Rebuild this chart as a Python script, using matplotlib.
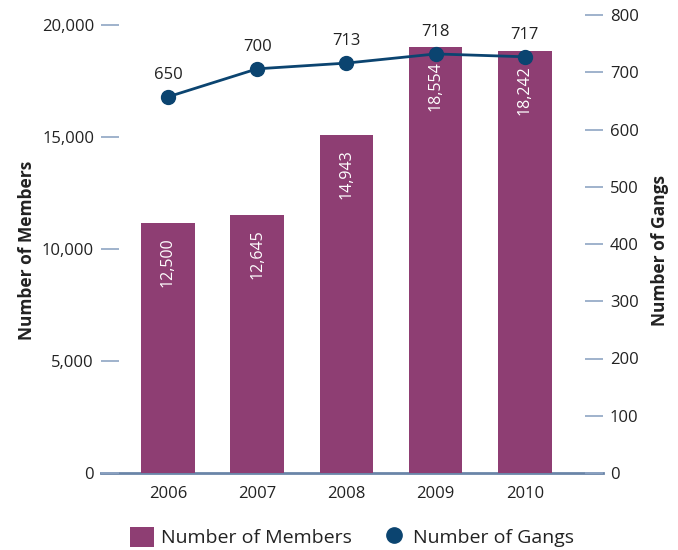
import matplotlib.pyplot as plt
from matplotlib.patches import Patch
from matplotlib.lines import Line2D

plt.rcParams['font.family'] = ['Open Sans', 'DejaVu Sans']

years = ["2006", "2007", "2008", "2009", "2010"]
# printed values
members = [12500, 12645, 14943, 18554, 18242]
gangs = [650, 700, 713, 718, 717]
# heights as drawn in the picture
member_bars = [11160, 11500, 15090, 19010, 18840]
gang_points = [657, 706, 716, 732, 727]

purple = "#8E3E73"
navy = "#0B4470"
tick_col = "#8FA5C4"
base_col = "#6A85A8"

fig = plt.figure(figsize=(6.78, 5.5), dpi=100)
ax = fig.add_axes([101 / 678, 1 - 473 / 550, 502 / 678, 458 / 550])
ax2 = ax.twinx()

x = list(range(len(years)))
ax.bar(x, member_bars, width=0.6, color=purple, zorder=3)
for xi, h, v in zip(x, member_bars, members):
    ax.annotate(f"{v:,}", (xi, h), xytext=(0, -10), textcoords="offset points",
                rotation=90, ha="center", va="top", color="white", fontsize=11.5)

ax2.plot(x, gang_points, color=navy, lw=2, marker="o", ms=10, zorder=4)
for xi, h, v in zip(x, gang_points, gangs):
    ax2.annotate(str(v), (xi, h), xytext=(0, 10), textcoords="offset points",
                 ha="center", va="bottom", color="#222222", fontsize=12)

ax.set_xlim(-0.75, 4.875)
ax.set_ylim(0, 20000 * 458 / 448)
ax2.set_ylim(0, 800)
ax.set_yticks([0, 5000, 10000, 15000, 20000])
ax.set_yticklabels(["0", "5,000", "10,000", "15,000", "20,000"])
ax2.set_yticks(range(0, 801, 100))
ax.set_xticks(x)
ax.set_xticklabels(years)

for a in (ax, ax2):
    for s in a.spines.values():
        s.set_visible(False)
ax.spines["bottom"].set_visible(True)
ax.spines["bottom"].set_color(base_col)
ax.spines["bottom"].set_linewidth(2)
ax.spines["bottom"].set_zorder(1)

ax.tick_params(axis="y", direction="in", length=13, width=1.2, color=tick_col,
               labelsize=12, pad=5, labelcolor="#222222")
ax2.tick_params(axis="y", direction="in", length=13, width=1.2, color=tick_col,
                labelsize=12, pad=5, labelcolor="#222222")
ax.tick_params(axis="x", length=0, labelsize=12, pad=9, labelcolor="#222222")

fig.text(27 / 678, 1 - 250 / 550, "Number of Members", rotation=90, ha="center",
         va="center", fontsize=12.5, fontweight="bold", color="#222222")
fig.text(660 / 678, 1 - 250 / 550, "Number of Gangs", rotation=90, ha="center",
         va="center", fontsize=12.5, fontweight="bold", color="#222222")

handles = [Patch(facecolor=purple, edgecolor="none"),
           Line2D([], [], color=navy, marker="o", ls="none", ms=11)]
fig.legend(handles, ["Number of Members", "Number of Gangs"], ncol=2,
           loc="center", bbox_to_anchor=(352 / 678, 1 - 537 / 550), frameon=False,
           fontsize=14, handlelength=1.2, handleheight=1.2, handletextpad=0.35,
           columnspacing=1.6, labelcolor="#222222")

fig.savefig("out.png", dpi=100)
